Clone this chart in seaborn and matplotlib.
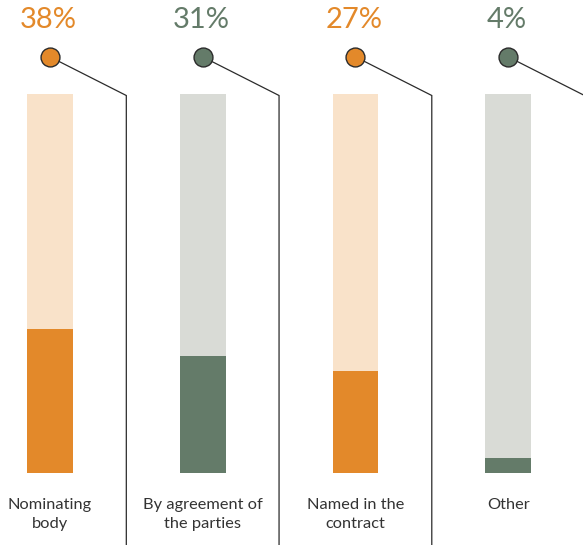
import seaborn as sns
import matplotlib.pyplot as plt

categories = ["Nominating\nbody", "By agreement of\nthe parties", "Named in the\ncontract", "Other"]
values = [38, 31, 27, 4]
dark_colors = ["#E3892A", "#647B69", "#E3892A", "#647B69"]
light_colors = ["#F9E2C9", "#D9DBD6", "#F9E2C9", "#D9DBD6"]

sns.set_style("white")
plt.rcParams['font.family'] = ['Lato', 'DejaVu Sans']

fig = plt.figure(figsize=(5.83, 5.45), dpi=100)
ax = fig.add_axes([0, 0, 1, 1])

# full-height background bars, then the share on top
sns.barplot(x=categories, y=[100] * len(categories), hue=categories,
            palette=light_colors, width=0.3, legend=False, ax=ax,
            saturation=1, linewidth=0)
sns.barplot(x=categories, y=values, hue=categories,
            palette=dark_colors, width=0.3, legend=False, ax=ax,
            saturation=1, linewidth=0)

for i, (cat, val, col) in enumerate(zip(categories, values, dark_colors)):
    # connector line from the marker down the right side
    ax.plot([i, i + 0.5, i + 0.5], [109.8, 99.6, -20], color="#2b2b2b",
            lw=0.9, zorder=3, solid_joinstyle="miter")
    ax.scatter([i], [109.8], s=185, color=col, edgecolor="#2b2b2b",
               linewidth=1.0, zorder=4)
    ax.text(i - 0.01, 119.5, f"{val}%", color=col, fontsize=21,
            fontweight="normal", ha="center", va="center")
    ax.text(i, -6.5, cat, color="#333333", fontsize=11.8, ha="center",
            va="top", linespacing=1.5)

ax.set_xlim(-0.327, 3.49)
ax.set_ylim(-19.0, 124.8)
ax.axis("off")

fig.savefig("out.png", dpi=100)
